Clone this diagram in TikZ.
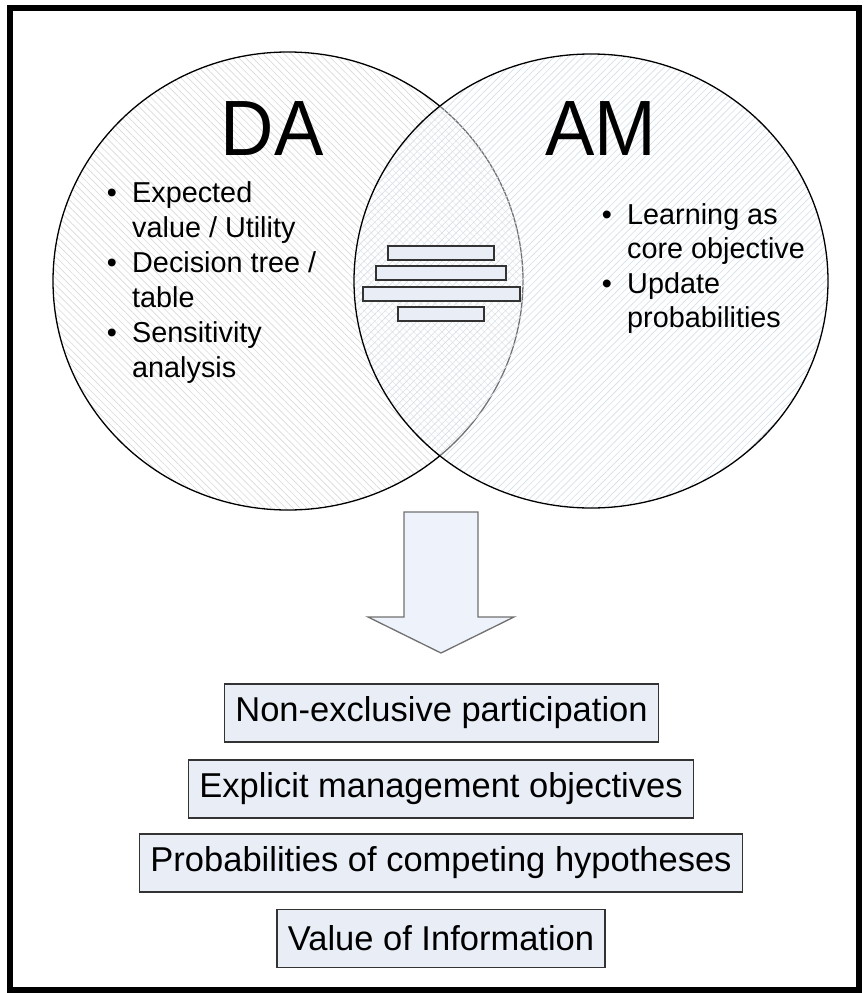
\documentclass[tikz,border=0pt]{standalone}
\usepackage{fontspec}
\setmainfont{Liberation Sans}
\usetikzlibrary{patterns.meta}
\definecolor{boxfill}{HTML}{E9EDF6}
\definecolor{boxline}{HTML}{333333}
\definecolor{hatchL}{HTML}{D9D9D9}
\definecolor{hatchR}{HTML}{D3DFEA}
\definecolor{arrowfill}{HTML}{EEF2FA}
\definecolor{arrowline}{HTML}{707070}
\begin{document}
\begin{tikzpicture}[x=1pt,y=-1pt,
  bigtxt/.style={font=\fontsize{74}{74}\selectfont, anchor=base, inner sep=0pt, yscale=1.06},
  itemtxt/.style={font=\fontsize{28.8}{35}\selectfont, anchor=base west, inner sep=0pt},
  bul/.style={font=\fontsize{28.8}{35}\selectfont, anchor=base, inner sep=0pt},
  bar/.style={draw=boxline, fill=boxfill, line width=1.5pt, inner sep=0pt},
  resbox/.style={draw=boxline, fill=boxfill, line width=1.3pt, font=\fontsize{34.5}{40}\selectfont,
                 minimum height=58pt, inner xsep=11pt, inner ysep=0pt}]
\useasboundingbox (0,0) rectangle (865,993);
\draw[line width=5.5pt] (10,8) rectangle (859,990);

% left circle (DA)
\path[pattern={Lines[angle=-45,distance=5pt,line width=0.65pt]}, pattern color=hatchL]
  (288,281) ellipse [x radius=235pt, y radius=229pt];
\draw[line width=1.3pt] (288,281) ellipse [x radius=235pt, y radius=229pt];
% right circle (AM)
\fill[white, opacity=0.45] (591,281) ellipse [x radius=237pt, y radius=227pt];
\path[pattern={Lines[angle=45,distance=5pt,line width=0.65pt]}, pattern color=hatchR]
  (591,281) ellipse [x radius=237pt, y radius=227pt];
\draw[line width=1.3pt] (591,281) ellipse [x radius=237pt, y radius=227pt];

\node[bigtxt] (da) at (272,155) {DA};
\node[bigtxt] (am) at (601,155) {AM};

% DA list
\node[bul] (b1) at (112,202) {•};
\node[itemtxt] (l1a) at (132,202) {Expected};
\node[itemtxt] (l1b) at (132,237) {value / Utility};
\node[bul] (b2) at (112,272) {•};
\node[itemtxt] (l2a) at (132,272) {Decision tree /};
\node[itemtxt] (l2b) at (132,307) {table};
\node[bul] (b3) at (112,342) {•};
\node[itemtxt] (l3a) at (132,342) {Sensitivity};
\node[itemtxt] (l3b) at (132,377) {analysis};

% AM list
\node[bul] (b4) at (607,224) {•};
\node[itemtxt] (r1a) at (627,224) {Learning as};
\node[itemtxt] (r1b) at (627,258) {core objective};
\node[bul] (b5) at (607,293) {•};
\node[itemtxt] (r2a) at (627,293) {Update};
\node[itemtxt] (r2b) at (627,327) {probabilities};

% stacked bars in the overlap
\node[bar, minimum width=106pt, minimum height=14pt] (s1) at (441,253) {};
\node[bar, minimum width=130pt, minimum height=14pt] (s2) at (441,273) {};
\node[bar, minimum width=157pt, minimum height=14pt] (s3) at (441.5,294) {};
\node[bar, minimum width=86pt, minimum height=14pt] (s4) at (441,314) {};

% block arrow
\draw[fill=arrowfill, draw=arrowline, line width=1.3pt, line join=miter]
  (404,512) -- (478,512) -- (478,617) -- (514,617) -- (441,653) -- (368,617) -- (404,617) -- cycle;

% result boxes
\node[resbox] (r1) at (441.5,713) {Non-exclusive participation};
\node[resbox] (r2) at (441,789) {Explicit management objectives};
\node[resbox] (r3) at (441,863) {Probabilities of competing hypotheses};
\node[resbox] (r4) at (441,938.5) {Value of Information};
\end{tikzpicture}
\end{document}
